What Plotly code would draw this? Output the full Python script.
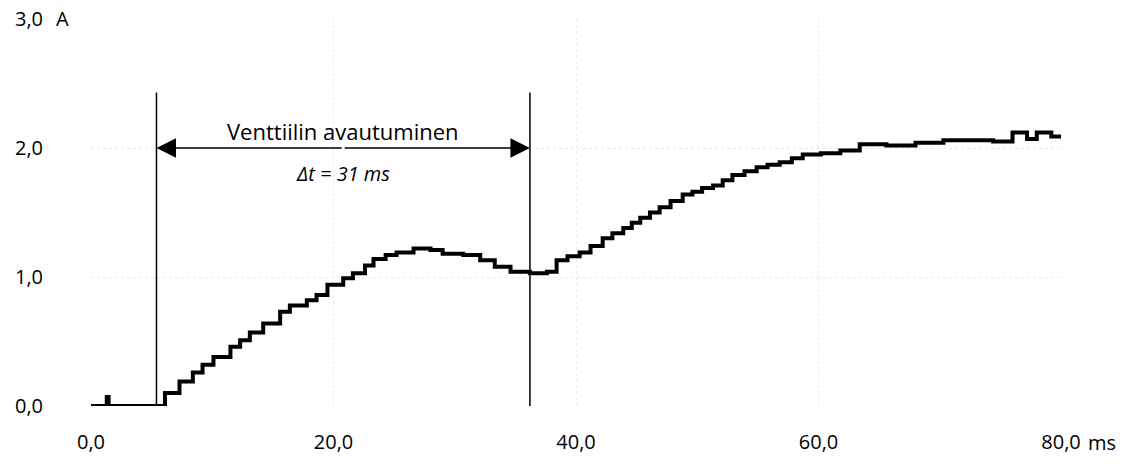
import plotly.graph_objects as go

# ---- data ----
time_ms = [0, 1.3, 1.45, 5.4, 6.1, 7.3, 8.4, 9.2, 10.1, 11.5, 12.3, 13.1, 14.2, 15.6, 16.4,
           17.8, 18.6, 19.5, 20.8, 21.6, 22.6, 23.3, 24.3, 25.2, 26.6, 28.0, 29.0, 30.7,
           32.1, 33.3, 34.6, 36.2, 37.6, 38.4, 39.3, 40.3, 41.2, 42.2, 43.0, 43.9, 44.6,
           45.3, 46.1, 46.9, 47.8, 48.8, 49.6, 50.4, 51.3, 52.1, 52.9, 53.9, 54.9, 55.8,
           56.8, 57.8, 58.7, 60.2, 61.8, 63.4, 65.6, 68.0, 70.3, 72.5, 74.4, 76.0, 77.2,
           78.0, 79.2, 80.0]
current_a = [0, 0.07, 0, 0, 0.10, 0.19, 0.26, 0.32, 0.38, 0.46, 0.51, 0.57, 0.64, 0.73, 0.78,
             0.82, 0.86, 0.94, 0.99, 1.03, 1.09, 1.14, 1.17, 1.19, 1.22, 1.21, 1.18, 1.17,
             1.13, 1.08, 1.04, 1.03, 1.04, 1.13, 1.16, 1.19, 1.24, 1.30, 1.34, 1.38, 1.42,
             1.46, 1.50, 1.54, 1.59, 1.64, 1.66, 1.69, 1.71, 1.75, 1.79, 1.82, 1.85, 1.87,
             1.89, 1.92, 1.95, 1.96, 1.98, 2.03, 2.02, 2.04, 2.06, 2.06, 2.05, 2.12, 2.07,
             2.12, 2.09, 2.10]

x_ticks = [0, 20, 40, 60, 80]
x_tick_labels = ["0,0", "20,0", "40,0", "60,0", "80,0"]
y_ticks = [0, 1, 2, 3]
y_tick_labels = ["0,0", "1,0", "2,0", "3,0"]

valve_open_times = [5.4, 36.2]      # ms, start and end of valve opening
valve_line_top = 2.43               # A
arrow_level = 2.0                   # A
label_title = "Venttiilin avautuminen"
label_delta = "<i>Δt = 31 ms</i>"

FONT = "Open Sans"
FS = 20

fig = go.Figure()
fig.add_trace(go.Scatter(
    x=time_ms, y=current_a, mode="lines",
    line=dict(color="black", width=4, shape="hv"),
    showlegend=False, hoverinfo="skip"))

for t in valve_open_times:
    fig.add_shape(type="line", x0=t, x1=t, y0=0, y1=valve_line_top,
                  xref="x", yref="y", line=dict(color="black", width=1.5))

mid = (valve_open_times[0] + valve_open_times[1]) / 2
for t in valve_open_times:
    fig.add_annotation(x=t, y=arrow_level, ax=mid, ay=arrow_level,
                       xref="x", yref="y", axref="x", ayref="y",
                       text="", showarrow=True, arrowhead=2, arrowsize=2.6,
                       arrowwidth=1.5, arrowcolor="black", standoff=0)

fig.add_annotation(x=mid, y=arrow_level, xref="x", yref="y", text=label_title,
                   showarrow=False, yshift=17, font=dict(family=FONT, size=22, color="black"))
fig.add_annotation(x=mid, y=arrow_level, xref="x", yref="y", text=label_delta,
                   showarrow=False, yshift=-25, font=dict(family=FONT, size=FS, color="black"))

# unit labels next to the last tick labels
fig.add_annotation(x=80, y=0, xref="x", yref="y", text="ms", showarrow=False,
                   xanchor="left", yanchor="middle", xshift=25, yshift=-36,
                   font=dict(family=FONT, size=FS, color="black"))
fig.add_annotation(x=0, y=3, xref="paper", yref="y", text="A", showarrow=False,
                   xanchor="left", yanchor="middle", xshift=-37, yshift=1,
                   font=dict(family=FONT, size=FS, color="black"))

grid_color = "#dfeef5"
fig.update_xaxes(range=[0, 80], tickvals=x_ticks, ticktext=x_tick_labels,
                 showgrid=True, gridcolor=grid_color, griddash="dot", gridwidth=1,
                 zeroline=False, showline=False, ticks="", ticklabelstandoff=22,
                 automargin=False,
                 tickfont=dict(family=FONT, size=FS, color="black"))
fig.update_yaxes(range=[0, 3], tickvals=y_ticks, ticktext=y_tick_labels,
                 showgrid=True, gridcolor=grid_color, griddash="dot", gridwidth=1,
                 zeroline=False, showline=False, ticks="", ticklabelstandoff=47,
                 automargin=False,
                 tickfont=dict(family=FONT, size=FS, color="black"))

fig.update_layout(width=1132, height=470, margin=dict(l=91, r=71, t=19, b=64),
                  plot_bgcolor="white", paper_bgcolor="white",
                  font=dict(family=FONT, size=FS, color="black"))

fig.write_html("out.html", config={"displayModeBar": False},
               post_script="document.body.style.margin='0';document.body.style.overflow='hidden';")
